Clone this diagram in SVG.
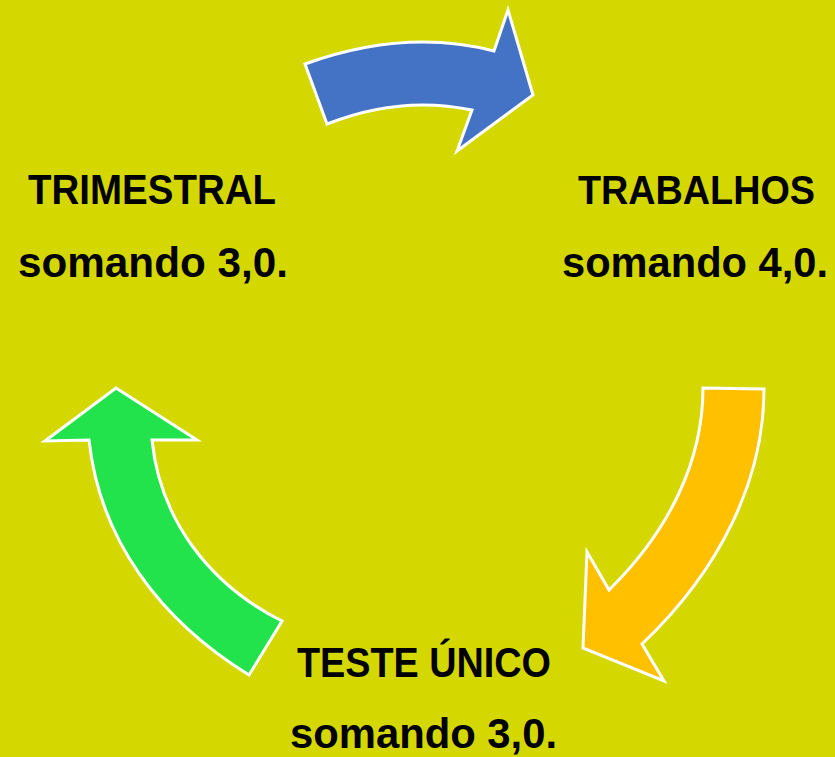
<svg xmlns="http://www.w3.org/2000/svg" width="835" height="757" viewBox="0 0 835 757">
<style>
.arrow{stroke:#ffffff;stroke-width:3;stroke-linejoin:miter}
.lbl{font-family:"Liberation Sans","Open Sans",sans-serif;font-weight:bold;font-size:42px;fill:#000000}
</style>
<rect x="0" y="0" width="835" height="757" fill="#D4D800"/>
<g id="connectors">
<path id="arrow-blue" class="arrow" fill="#4472C4" d="M305,64 Q405,28 494,51 L508,10 L533,95 L457,151 L472,110 Q400,95 327,124 Z"/>
<path id="arrow-orange" class="arrow" fill="#FFC000" d="M703,388 L764,389 C764,480 720,570 642,644 L664,681 L583,648 L587,552 L609,590 C670,530 703,460 703,388 Z"/>
<path id="arrow-green" class="arrow" fill="#22E34B" d="M116,388 L197,440 L152,440 C160,520 210,585 282,621 L249,675 C160,620 100,540 89,440 L45,441 Z"/>
</g>
<g id="node-trimestral">
<text class="lbl" x="28" y="204" textLength="248" lengthAdjust="spacingAndGlyphs">TRIMESTRAL</text>
<text class="lbl" x="18" y="277" textLength="270" lengthAdjust="spacingAndGlyphs">somando 3,0.</text>
</g>
<g id="node-trabalhos">
<text class="lbl" x="578" y="204" textLength="237" lengthAdjust="spacingAndGlyphs" style="font-size:40px">TRABALHOS</text>
<text class="lbl" x="562" y="277" textLength="266" lengthAdjust="spacingAndGlyphs">somando 4,0.</text>
</g>
<g id="node-teste">
<text class="lbl" x="297" y="677" textLength="254" lengthAdjust="spacingAndGlyphs">TESTE ÚNICO</text>
<text class="lbl" x="290" y="748" textLength="267" lengthAdjust="spacingAndGlyphs">somando 3,0.</text>
</g>
</svg>
